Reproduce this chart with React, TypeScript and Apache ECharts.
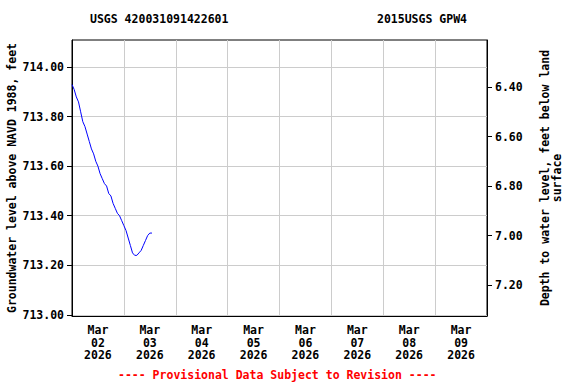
import React, { useEffect, useRef } from "react";
import * as echarts from "echarts";

const TITLE_LEFT = "USGS 420031091422601";
const TITLE_RIGHT = "2015USGS GPW4";
const FOOTER = "---- Provisional Data Subject to Revision ----";
const LEFT_NAME = "Groundwater level above NAVD 1988, feet";
const RIGHT_NAME = "Depth to water level, feet below land\nsurface";

const dayLabels = ["Mar\n02\n2026", "Mar\n03\n2026", "Mar\n04\n2026", "Mar\n05\n2026", "Mar\n06\n2026", "Mar\n07\n2026", "Mar\n08\n2026", "Mar\n09\n2026"];
const leftTicks = [713.0, 713.2, 713.4, 713.6, 713.8, 714.0];
const rightTicks = [6.4, 6.6, 6.8, 7.0, 7.2];

// hours since Mar 02 2026 00:00
const hours = [0, 1, 2, 3, 4, 5, 6, 7, 8, 9, 10, 11, 12, 13, 14, 15, 16, 17, 18, 19, 20, 21, 22, 23, 24, 25, 26, 27, 28, 29, 30, 31, 32, 33, 34, 35, 36, 37];
const levels = [713.93, 713.91, 713.88, 713.86, 713.82, 713.78, 713.76, 713.73, 713.70, 713.67, 713.65, 713.62, 713.60, 713.57, 713.55, 713.53, 713.52, 713.49, 713.48, 713.45, 713.43, 713.41, 713.40, 713.38, 713.36, 713.34, 713.31, 713.28, 713.25, 713.24, 713.24, 713.25, 713.26, 713.28, 713.30, 713.32, 713.33, 713.33];

const FONT = "DejaVu Sans Mono";
const FS = 11.5;

export default function App() {
  const ref = useRef<HTMLDivElement>(null);
  useEffect(() => {
    const chart = echarts.init(ref.current!, null, { renderer: "svg" });
    const txt = { fontFamily: FONT, fontWeight: "bold", fontSize: FS, color: "#000" };
    chart.setOption({
      animation: false,
      backgroundColor: "#fff",
      grid: { left: 72, top: 40, right: 89, bottom: 68, show: true, borderColor: "#000", borderWidth: 1, backgroundColor: "transparent", containLabel: false, outerBoundsMode: "none" },
      graphic: [
        { type: "text", left: 90, top: 13, style: { text: TITLE_LEFT, font: `bold ${FS}px ${FONT}`, fill: "#000" } },
        { type: "text", left: 377, top: 13, style: { text: TITLE_RIGHT, font: `bold ${FS}px ${FONT}`, fill: "#000" } },
        { type: "text", left: 118, top: 369, style: { text: FOOTER, font: `bold ${FS}px ${FONT}`, fill: "#ff0000" } },
      ],
      xAxis: [
        {
          type: "value", min: 0, max: 192, interval: 24, position: "bottom",
          axisLine: { show: true, lineStyle: { color: "#000" } },
          axisTick: { show: false }, axisLabel: { show: false },
          splitLine: { show: true, lineStyle: { color: "#cccccc", width: 1 } },
        },
        {
          type: "category", data: dayLabels, position: "bottom", boundaryGap: true,
          axisLine: { show: false }, axisTick: { show: false }, splitLine: { show: false },
          axisLabel: { ...txt, margin: 8, lineHeight: 12.5, interval: 0 },
        },
      ],
      yAxis: [
        {
          type: "value", min: 712.995, max: 714.11, position: "left",
          name: LEFT_NAME, nameLocation: "middle", nameGap: 54, nameRotate: 90, nameMoveOverlap: false,
          nameTextStyle: { ...txt },
          axisLine: { show: true, lineStyle: { color: "#000" } },
          axisTick: { show: true, inside: false, length: 5, customValues: leftTicks, lineStyle: { color: "#000" } },
          axisLabel: { ...txt, margin: 8, customValues: leftTicks, formatter: (v: number) => v.toFixed(2) },
          splitLine: { show: true, lineStyle: { color: "#cccccc", width: 1 } },
        },
        {
          type: "value", min: 6.21, max: 7.325, inverse: true, position: "right",
          name: RIGHT_NAME, nameLocation: "middle", nameGap: 52, nameRotate: 90, nameMoveOverlap: false,
          nameTextStyle: { ...txt, lineHeight: 12, align: "center" },
          axisLine: { show: true, lineStyle: { color: "#000" } },
          axisTick: { show: true, inside: false, length: 5, customValues: rightTicks, lineStyle: { color: "#000" } },
          axisLabel: { ...txt, margin: 8, customValues: rightTicks, formatter: (v: number) => v.toFixed(2) },
          splitLine: { show: false },
        },
      ],
      series: [
        {
          type: "line", xAxisIndex: 0, yAxisIndex: 0, showSymbol: false, symbol: "none",
          data: hours.map((h, i) => [h, levels[i]]),
          lineStyle: { color: "#0000ff", width: 1 },
        },
      ],
    });
    return () => chart.dispose();
  }, []);
  return <div ref={ref} style={{ width: 576, height: 384, position: "absolute", left: 0, top: 0 }} />;
}
